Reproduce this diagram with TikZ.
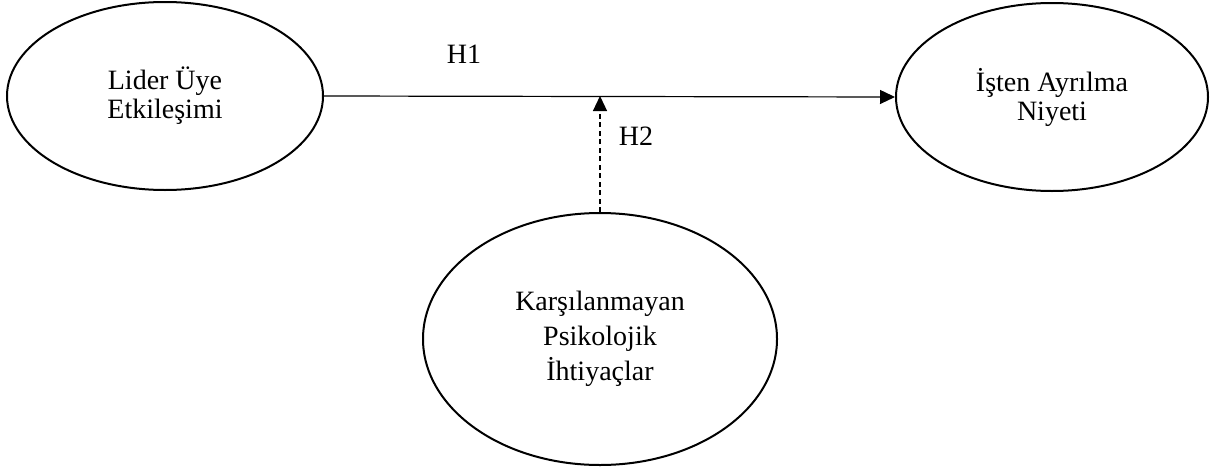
\documentclass[tikz,border=0pt]{standalone}
\usepackage{fontspec}
\setmainfont{Liberation Serif}
\usetikzlibrary{shapes.geometric,arrows.meta}
\begin{document}
\begin{tikzpicture}[x=1pt,y=-1pt,
  construct/.style={draw,ellipse,line width=2pt,inner sep=0pt,align=center},
  toptext/.style={font=\fontsize{28}{29}\selectfont},
  bottext/.style={font=\fontsize{28}{35}\selectfont},
  lbl/.style={font=\fontsize{28}{29}\selectfont,inner sep=0pt},
  arr/.style={line width=1.2pt,-{Triangle[length=15pt,width=14pt]}},
  darr/.style={line width=1.2pt,dash pattern=on 5pt off 3.5pt,-{Triangle[length=15pt,width=14pt]}}]
\useasboundingbox (0,0) rectangle (1210,466);
\node[construct,toptext,minimum width=316pt,minimum height=188pt] (L) at (165,96) {Lider Üye\\Etkileşimi};
\node[construct,toptext,minimum width=312pt,minimum height=188pt] (R) at (1052,97) {İşten Ayrılma\\Niyeti};
\node[construct,bottext,minimum width=354pt,minimum height=252pt] (B) at (600,339) {Karşılanmayan\\Psikolojik\\İhtiyaçlar};
\draw[arr] (L.east) -- (R.west);
\coordinate (m) at (B.north |- L.east);
\draw[darr] (B.north) -- (m);
\node[lbl] (h1) at (464,54) {H1};
\node[lbl] (h2) at (636,136) {H2};
\end{tikzpicture}
\end{document}
